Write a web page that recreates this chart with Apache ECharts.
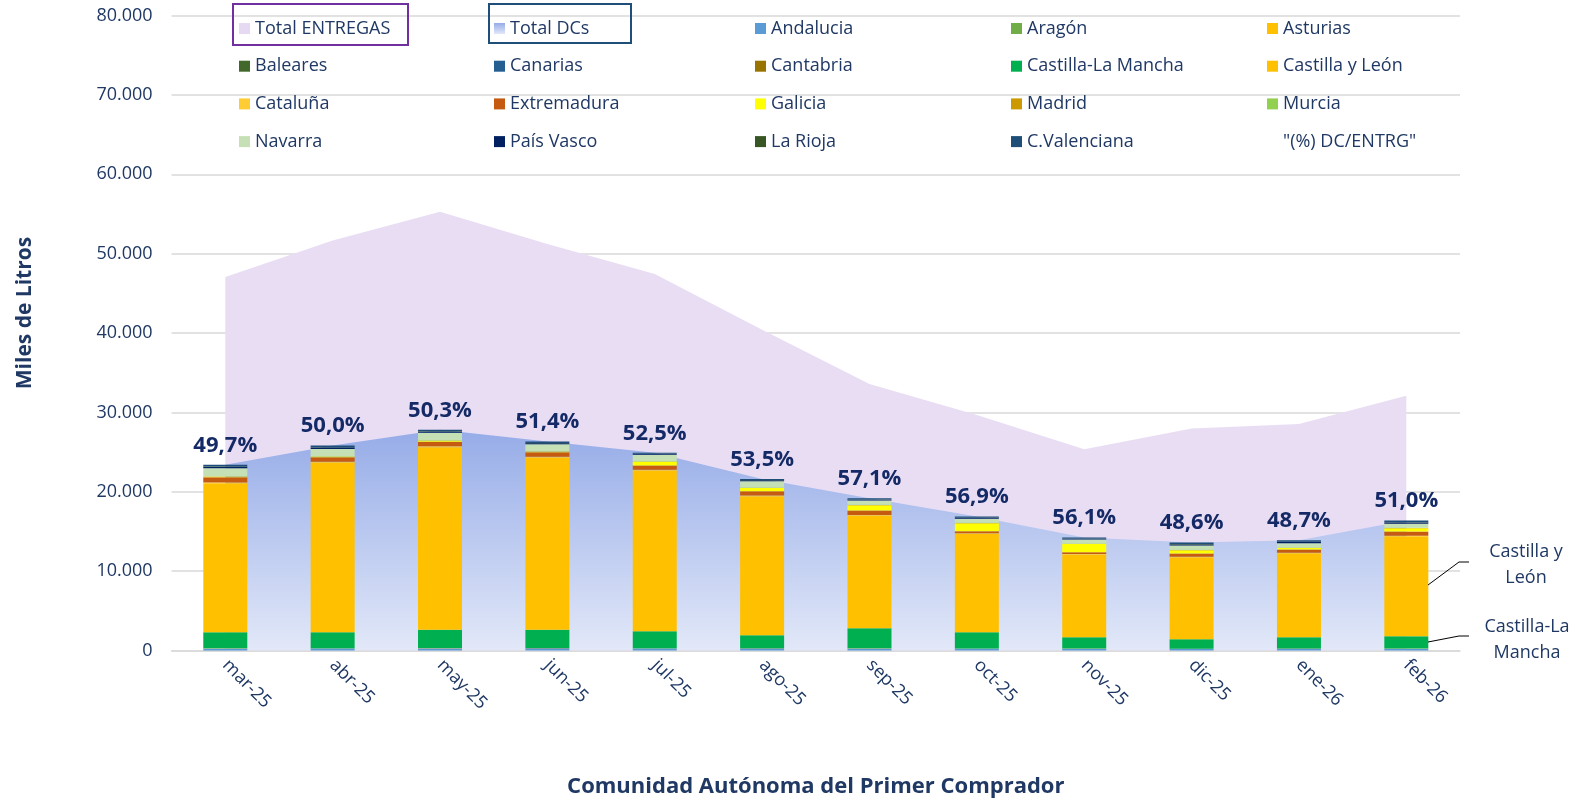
<!DOCTYPE html>
<html>
<head>
<meta charset="utf-8">
<script src="https://cdn.jsdelivr.net/npm/echarts@6/dist/echarts.min.js"></script>
<style>html,body{margin:0;padding:0;background:#fff}#c{width:1579px;height:801px}</style>
</head>
<body>
<div id="c"></div>
<script>
const months = ['mar-25','abr-25','may-25','jun-25','jul-25','ago-25','sep-25','oct-25','nov-25','dic-25','ene-26','feb-26'];
const totalEntregas = [47060,51640,55270,51210,47430,40410,33590,29670,25370,27980,28520,32100];
const pctDcEntrg = [49.7,50.0,50.3,51.4,52.5,53.5,57.1,56.9,56.1,48.6,48.7,51.0];
const andalucia = [250,260,280,270,260,240,250,230,220,200,210,220];
const aragon = [15,15,15,15,15,15,15,15,15,15,15,15];
const asturias = [5,5,5,5,5,5,5,5,5,5,5,5];
const baleares = [0,0,0,0,0,0,0,0,0,0,0,0];
const canarias = [0,0,0,0,0,0,0,0,0,0,0,0];
const cantabria = [10,10,10,10,10,10,10,10,10,10,10,10];
const castillaLaMancha = [2020,2010,2290,2300,2140,1660,2530,2040,1430,1190,1440,1550];
const castillaYLeon = [18770,21380,23000,21710,20240,17500,14190,12400,10410,10330,10580,12600];
const cataluna = [100,100,120,110,100,90,80,70,60,60,60,70];
const extremadura = [660,570,570,560,530,540,550,260,230,410,400,520];
const galicia = [60,80,160,60,500,430,670,1000,1060,410,210,410];
const madrid = [20,20,20,20,20,20,20,20,20,20,20,20];
const murcia = [30,30,30,30,30,30,30,30,30,30,30,30];
const navarra = [1020,920,920,890,800,780,540,510,490,540,530,510];
const paisVasco = [170,170,150,130,100,120,110,110,100,150,150,160];
const laRioja = [40,40,40,30,30,30,30,30,30,40,40,50];
const cValenciana = [220,210,190,180,120,150,150,150,120,190,190,200];

const regions = [
  ['Andalucia', andalucia, '#5B9BD5'],
  ['Aragón', aragon, '#70AD47'],
  ['Asturias', asturias, '#FFC000'],
  ['Baleares', baleares, '#43682B'],
  ['Canarias', canarias, '#255E91'],
  ['Cantabria', cantabria, '#997300'],
  ['Castilla-La Mancha', castillaLaMancha, '#00B050'],
  ['Castilla y León', castillaYLeon, '#FFC000'],
  ['Cataluña', cataluna, '#FFCD33'],
  ['Extremadura', extremadura, '#C55A11'],
  ['Galicia', galicia, '#FFFF00'],
  ['Madrid', madrid, '#CC9900'],
  ['Murcia', murcia, '#92D050'],
  ['Navarra', navarra, '#C5E0B4'],
  ['País Vasco', paisVasco, '#002060'],
  ['La Rioja', laRioja, '#375623'],
  ['C.Valenciana', cValenciana, '#1F4E79']
];
const totalDCs = months.map((m, i) => regions.reduce((s, r) => s + r[1][i], 0));
const PCT_NAME = '"(%) DC/ENTRG"';
const navy = '#1F3864';
const font = 'Open Sans';

const dcGrad = new echarts.graphic.LinearGradient(0, 0, 0, 1, [
  {offset: 0, color: '#96ACE8'}, {offset: 1, color: '#E2E8F8'}
]);
const dcGradIcon = new echarts.graphic.LinearGradient(0, 0, 0, 1, [
  {offset: 0, color: '#96ACE8'}, {offset: 1, color: '#E2E8F8'}
]);

const lastIdx = months.length - 1;
const annot = {
  'Castilla y León': {text: 'Castilla y\nLeón', x: 1526, y: 565},
  'Castilla-La Mancha': {text: 'Castilla-La\nMancha', x: 1527, y: 640}
};

const barSeries = regions.map(([name, vals, color]) => {
  const a = annot[name];
  const s = {
    name, type: 'bar', stack: 'dc', barWidth: 44, z: 3,
    itemStyle: {color},
    data: vals.map((v, i) => {
      if (a && i === lastIdx) {
        return {value: v, label: {show: true, formatter: a.text, position: 'right',
          color: navy, fontFamily: font, fontSize: 18, lineHeight: 26, align: 'center'}};
      }
      return v;
    })
  };
  if (a) {
    s.labelLayout = (p) => p.dataIndex === lastIdx ? {x: a.x, y: a.y, align: 'center', verticalAlign: 'middle'} : {};
  }
  return s;
});

const rows = [
  ['Total ENTREGAS','Baleares','Cataluña','Navarra'],
  ['Total DCs','Canarias','Extremadura','País Vasco'],
  ['Andalucia','Cantabria','Galicia','La Rioja'],
  ['Aragón','Castilla-La Mancha','Madrid','C.Valenciana'],
  ['Asturias','Castilla y León','Murcia', PCT_NAME]
];
const colX = [239, 494, 755, 1011, 1267];
function legendItem(n) {
  if (n === 'Total ENTREGAS') return {name: n, itemStyle: {color: '#E6DAF3'}};
  if (n === 'Total DCs') return {name: n, itemStyle: {color: dcGradIcon}};
  if (n === PCT_NAME) return {name: n, itemStyle: {color: 'rgba(0,0,0,0)', opacity: 0}};
  return {name: n};
}
const legends = rows.map((col, k) => ({
  orient: 'vertical', left: colX[k], top: 18.5, padding: 0,
  itemWidth: 11, itemHeight: 11, itemGap: 17.7, icon: 'rect',
  selectedMode: false,
  textStyle: {color: navy, fontFamily: font, fontSize: 18, lineHeight: 20},
  data: col.map(legendItem)
}));

const leader = (pts) => ({type: 'polyline', shape: {points: pts}, style: {stroke: '#000', lineWidth: 1, fill: 'none'}, z: 100});

const option = {
  animation: false,
  backgroundColor: '#fff',
  legend: legends,
  grid: {left: 171.6, right: 119, top: 15.5, bottom: 150.5, containLabel: false, outerBoundsMode: 'none'},
  xAxis: {
    type: 'category', data: months,
    name: 'Comunidad Autónoma del Primer Comprador', nameLocation: 'middle', nameGap: 125,
    nameTextStyle: {color: navy, fontFamily: font, fontSize: 22, fontWeight: 'bold'},
    axisTick: {show: false},
    axisLine: {lineStyle: {color: '#D9D9D9', width: 1.5}},
    axisLabel: {rotate: -45, margin: 12, color: navy, fontFamily: font, fontSize: 18, interval: 0}
  },
  yAxis: {
    type: 'value', min: 0, max: 80000, interval: 10000,
    name: 'Miles de Litros', nameLocation: 'middle', nameGap: 136,
    nameTextStyle: {color: navy, fontFamily: font, fontSize: 21, fontWeight: 'bold', padding: [0,0,0,40]},
    axisLine: {show: false}, axisTick: {show: false},
    splitLine: {lineStyle: {color: '#D9D9D9', width: 1.5}},
    axisLabel: {margin: 19, color: navy, fontFamily: font, fontSize: 18,
      formatter: v => String(v).replace(/\B(?=(\d{3})+(?!\d))/g, '.')}
  },
  graphic: [
    {type: 'rect', shape: {x: 233, y: 4, width: 175, height: 41}, style: {fill: 'none', stroke: '#7030A0', lineWidth: 2}, z: 100},
    {type: 'rect', shape: {x: 489, y: 4, width: 142, height: 39}, style: {fill: 'none', stroke: '#1F4E79', lineWidth: 2}, z: 100},
    leader([[1428, 585], [1459, 562], [1469, 562]]),
    leader([[1428, 642], [1459, 636], [1469, 636]])
  ],
  series: [
    {name: 'Total ENTREGAS', type: 'line', data: totalEntregas, symbol: 'none', z: 1,
      lineStyle: {width: 0, color: '#E9DDF4'}, itemStyle: {color: '#E9DDF4'},
      areaStyle: {color: '#E9DDF4', opacity: 1}},
    {name: 'Total DCs', type: 'line', data: totalDCs, symbol: 'none', z: 2,
      lineStyle: {width: 0, color: '#96ACE8'}, itemStyle: {color: '#96ACE8'},
      areaStyle: {color: dcGrad, opacity: 1}},
    ...barSeries,
    {name: PCT_NAME, type: 'line', data: totalDCs, z: 5, symbol: 'circle', symbolSize: 1,
      lineStyle: {width: 0, opacity: 0}, itemStyle: {color: 'rgba(0,0,0,0)'},
      label: {show: true, position: 'top', distance: 8, color: '#142A66', fontFamily: font,
        fontSize: 22, fontWeight: 'bold',
        formatter: p => pctDcEntrg[p.dataIndex].toFixed(1).replace('.', ',') + '%'}}
  ]
};
const chart = echarts.init(document.getElementById('c'), null, {renderer: 'canvas'});
chart.setOption(option);
</script>
</body>
</html>
